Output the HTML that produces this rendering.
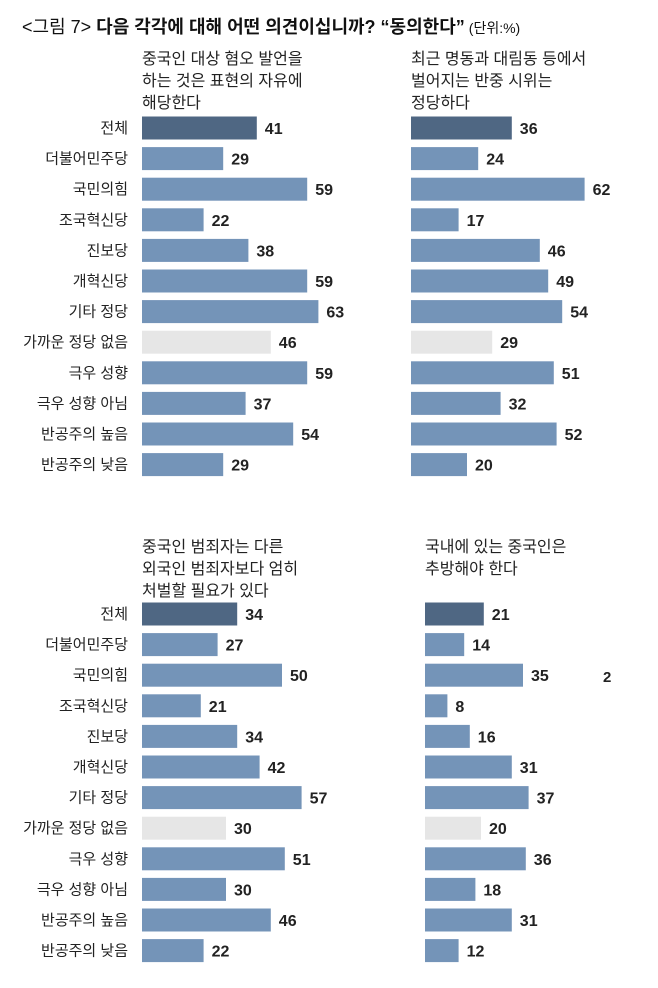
<!DOCTYPE html>
<html><head><meta charset="utf-8"><style>
body{margin:0;background:#fff;}
svg{display:block;font-family:"Liberation Sans","Noto Sans CJK KR",sans-serif;}
</style></head><body>
<svg id="c" width="658" height="988" viewBox="0 0 658 988">
<text x="22" y="33" font-size="18" fill="#111"><tspan>&lt;그림 7&gt; </tspan><tspan font-weight="bold">다음 각각에 대해 어떤 의견이십니까? “동의한다”</tspan><tspan font-size="14" dx="4">(단위:%)</tspan></text>
<text x="603" y="682" font-size="15" font-weight="bold" fill="#222">2</text>
</svg>
<script>
const categories=["전체","더불어민주당","국민의힘","조국혁신당","진보당","개혁신당","기타 정당","가까운 정당 없음","극우 성향","극우 성향 아님","반공주의 높음","반공주의 낮음"];
const q1Values=[41,29,59,22,38,59,63,46,59,37,54,29];
const q2Values=[36,24,62,17,46,49,54,29,51,32,52,20];
const q3Values=[34,27,50,21,34,42,57,30,51,30,46,22];
const q4Values=[21,14,35,8,16,31,37,20,36,18,31,12];
const q1Title=["중국인 대상 혐오 발언을","하는 것은 표현의 자유에","해당한다"];
const q2Title=["최근 명동과 대림동 등에서","벌어지는 반중 시위는","정당하다"];
const q3Title=["중국인 범죄자는 다른","외국인 범죄자보다 엄히","처벌할 필요가 있다"];
const q4Title=["국내에 있는 중국인은","추방해야 한다"];
const svg=document.getElementById('c');
const NS='http://www.w3.org/2000/svg';
const scale=2.8;
function xPos(x0,v){return x0+v*scale;}
function yPos(y0,i){return y0+i*30.6;}
function mk(tag,attrs){const e=document.createElementNS(NS,tag);for(const k in attrs)e.setAttribute(k,attrs[k]);svg.appendChild(e);return e;}
function panel(id,x0,y0,ty,values,title,showLabels){
  title.forEach((t,j)=>{
    const e=mk('text',{x:x0,y:ty+j*22,'font-size':16,fill:'#222'});
    
    
    e.textContent=t;
  });
  values.forEach((v,i)=>{
    const cy=yPos(y0,i);
    const col=i===0?'#4f6783':(i===7?'#e6e6e6':'#7494b8');
    const r=mk('rect',{x:x0,y:cy-11.5,width:xPos(x0,v)-x0,height:23,fill:col});
    
    
    const t=mk('text',{x:xPos(x0,v)+8,y:cy+6,'font-size':16,'font-weight':'bold',fill:'#222'});
    
    
    t.textContent=v;
    if(showLabels){
      const l=mk('text',{x:128,y:cy+5,'font-size':15,fill:'#222','text-anchor':'end'});
      
      
      l.textContent=categories[i];
    }
  });
}
panel('q1',142,128,64,q1Values,q1Title,true);
panel('q2',411,128,64,q2Values,q2Title,false);
panel('q3',142,614,552,q3Values,q3Title,true);
panel('q4',425,614,552,q4Values,q4Title,false);
</script>
</body></html>
